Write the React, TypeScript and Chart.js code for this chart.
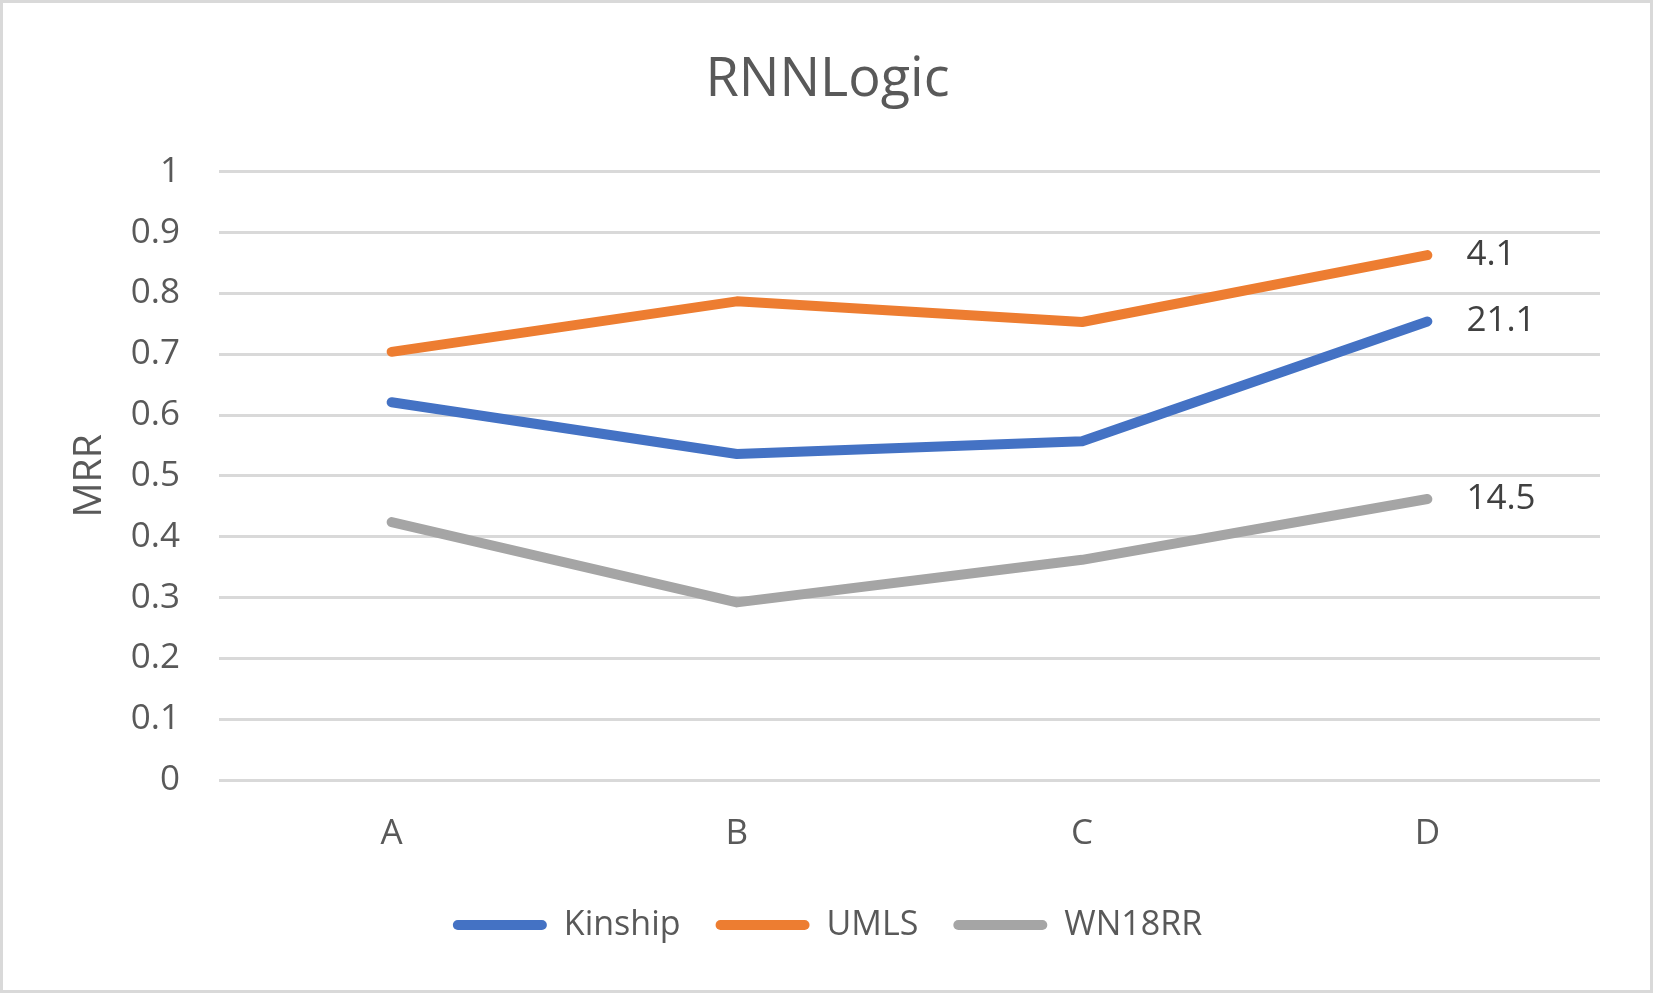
import React, { useEffect, useRef } from "react";
import { Chart, registerables } from "chart.js";

Chart.register(...registerables);

const categories = ["A", "B", "C", "D"];
const kinship = [0.621, 0.536, 0.557, 0.754];
const umls = [0.704, 0.787, 0.753, 0.863];
const wn18rr = [0.424, 0.292, 0.362, 0.462];
const endLabels = ["21.1", "4.1", "14.5"];
const seriesNames = ["Kinship", "UMLS", "WN18RR"];
const seriesColors = ["#4472C4", "#ED7D31", "#A5A5A5"];
const yTicks = [0, 0.1, 0.2, 0.3, 0.4, 0.5, 0.6, 0.7, 0.8, 0.9, 1];

const FONT = "'Open Sans', 'Noto Sans', sans-serif";

const framePlugin = {
  id: "frame",
  beforeDraw(chart: any) {
    const { ctx, width, height } = chart;
    ctx.save();
    ctx.fillStyle = "#ffffff";
    ctx.fillRect(0, 0, width, height);
    ctx.strokeStyle = "#d9d9d9";
    ctx.lineWidth = 3;
    ctx.strokeRect(1.5, 1.5, width - 3, height - 3);
    ctx.restore();
  },
};

const endLabelPlugin = {
  id: "endLabels",
  afterDatasetsDraw(chart: any) {
    const { ctx } = chart;
    ctx.save();
    ctx.font = `35px ${FONT}`;
    ctx.fillStyle = "#404040";
    ctx.textAlign = "left";
    ctx.textBaseline = "middle";
    chart.data.datasets.forEach((ds: any, i: number) => {
      const meta = chart.getDatasetMeta(i);
      const pts = meta.data;
      const last = pts[pts.length - 1];
      if (!last) return;
      ctx.fillText(endLabels[i], last.x + 39, last.y);
    });
    ctx.restore();
  },
};

export default function App() {
  const ref = useRef<HTMLCanvasElement | null>(null);
  useEffect(() => {
    if (!ref.current) return;
    const series = [kinship, umls, wn18rr];
    const chart = new Chart(ref.current, {
      type: "line",
      data: {
        labels: categories,
        datasets: series.map((d, i) => ({
          label: seriesNames[i],
          data: d,
          borderColor: seriesColors[i],
          backgroundColor: seriesColors[i],
          borderWidth: 10,
          borderCapStyle: "round" as const,
          borderJoinStyle: "round" as const,
          pointRadius: 0,
          tension: 0,
        })),
      },
      options: {
        animation: false,
        responsive: false,
        maintainAspectRatio: false,
        devicePixelRatio: 1,
        layout: { padding: { left: 55, right: 53, top: 0, bottom: 41 } },
        plugins: {
          tooltip: { enabled: false },
          title: {
            display: true,
            text: "RNNLogic",
            color: "#595959",
            font: { family: FONT, size: 54, weight: "normal", lineHeight: 1.2 },
            padding: { top: 48, bottom: 59 },
          },
          legend: {
            position: "bottom",
            labels: {
              color: "#595959",
              font: { family: FONT, size: 34 },
              boxWidth: 94,
              boxHeight: 10,
              padding: 35,
              useBorderRadius: true,
              borderRadius: 5,
              generateLabels: (c: any) =>
                c.data.datasets.map((ds: any, i: number) => ({
                  text: ds.label,
                  fillStyle: seriesColors[i],
                  strokeStyle: seriesColors[i],
                  lineWidth: 0,
                  hidden: false,
                  datasetIndex: i,
                  borderRadius: 5,
                  fontColor: "#595959",
                })),
            },
          },
        },
        scales: {
          x: {
            offset: true,
            grid: { display: false, drawTicks: false },
            border: { display: false },
            ticks: {
              color: "#595959",
              font: { family: FONT, size: 35 },
              padding: 33,
            },
            afterFit: (s: any) => {
              s.height = 93;
            },
          },
          y: {
            min: 0,
            max: 1,
            afterBuildTicks: (s: any) => {
              s.ticks = yTicks.map((v) => ({ value: v }));
            },
            grid: { color: "#d9d9d9", lineWidth: 3, drawTicks: false },
            border: { display: false },
            ticks: {
              color: "#595959",
              font: { family: FONT, size: 35 },
              padding: 39,
              callback: (v: any) => String(Math.round(Number(v) * 10) / 10),
            },
            title: {
              display: true,
              text: "MRR",
              color: "#595959",
              font: { family: FONT, size: 39, lineHeight: 1.2 },
              padding: { top: 11, bottom: 0 },
            },
            afterFit: (s: any) => {
              s.width = 164;
            },
          },
        },
      },
      plugins: [framePlugin, endLabelPlugin],
    });
    return () => chart.destroy();
  }, []);
  return (
    <div style={{ position: "fixed", left: 0, top: 0, width: 1653, height: 993 }}>
      <canvas ref={ref} width={1653} height={993} style={{ width: 1653, height: 993, display: "block" }} />
    </div>
  );
}
